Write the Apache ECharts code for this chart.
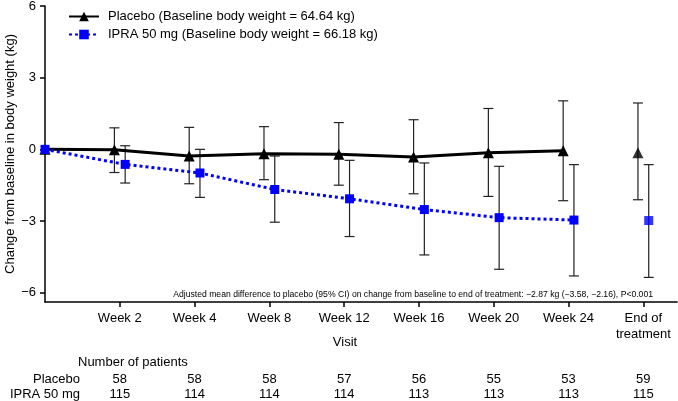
<!DOCTYPE html>
<html>
<head>
<meta charset="utf-8">
<script src="https://cdn.jsdelivr.net/npm/echarts@6/dist/echarts.min.js"></script>
<style>html,body{margin:0;padding:0;background:#fff}#chart{width:678px;height:401px}</style>
</head>
<body>
<div id="chart"></div>
<script>
// visits (index 0 = baseline)
var visits = ['Baseline', 'Week 2', 'Week 4', 'Week 8', 'Week 12', 'Week 16', 'Week 20', 'Week 24', 'End of\ntreatment'];
var yTicks = [-6, -3, 0, 3, 6];

var placeboMean = [0, -0.02, -0.28, -0.18, -0.21, -0.32, -0.14, -0.06, -0.14];
var placeboLow  = [null, -0.97, -1.44, -1.27, -1.50, -1.86, -1.97, -2.15, -2.11];
var placeboHigh = [null, 0.90, 0.92, 0.95, 1.12, 1.24, 1.71, 2.03, 1.94];

var ipraMean = [0, -0.63, -0.99, -1.68, -2.07, -2.52, -2.86, -2.96, -2.98];
var ipraLow  = [null, -1.41, -2.01, -3.05, -3.65, -4.42, -5.02, -5.30, -5.36];
var ipraHigh = [null, 0.15, 0.00, -0.28, -0.46, -0.57, -0.71, -0.64, -0.64];

var placeboN = [null, 58, 58, 58, 57, 56, 55, 53, 59];
var ipraN    = [null, 115, 114, 114, 114, 113, 113, 113, 115];

var placeboName = 'Placebo (Baseline body weight = 64.64 kg)';
var ipraName = 'IPRA 50 mg (Baseline body weight = 66.18 kg)';
var note = 'Adjusted mean difference to placebo (95% CI) on change from baseline to end of treatment: \u22122.87 kg (\u22123.58, \u22122.16), P<0.001';

var FONT = 'Liberation Sans, Arial, sans-serif';
var BLUE = '#0000ff';
var shift = 0.072; // horizontal dodge of the two groups

function pos(i, d) { return i === 0 ? 0 : i + d; }
var last = visits.length - 1;

var plLine = [], plEnd = [], plErr = [];
placeboMean.forEach(function (v, i) {
  if (i < last) plLine.push([pos(i, -shift), v]); else plEnd.push([pos(i, -shift), v]);
  if (placeboLow[i] != null) plErr.push([pos(i, -shift), placeboLow[i], placeboHigh[i]]);
});
var ipLine = [], ipEnd = [], ipErr = [];
ipraMean.forEach(function (v, i) {
  if (i < last) ipLine.push([pos(i, shift), v]); else ipEnd.push([pos(i, shift), v]);
  if (ipraLow[i] != null) ipErr.push([pos(i, shift), ipraLow[i], ipraHigh[i]]);
});

function errorBar(params, api) {
  var x = api.value(0);
  var top = api.coord([x, api.value(2)]);
  var bot = api.coord([x, api.value(1)]);
  var w = 5, st = {stroke: '#222', lineWidth: 1.2};
  return {type: 'group', children: [
    {type: 'line', shape: {x1: top[0], y1: top[1], x2: bot[0], y2: bot[1]}, style: st},
    {type: 'line', shape: {x1: top[0] - w, y1: top[1], x2: top[0] + w, y2: top[1]}, style: st},
    {type: 'line', shape: {x1: bot[0] - w, y1: bot[1], x2: bot[0] + w, y2: bot[1]}, style: st}
  ]};
}

var ticks = visits.map(function (v, i) { return i; }).slice(1);
var minus = function (v) { return String(v).replace('-', '\u2212'); };

function countAxis(arr, offset) {
  return {
    type: 'value', min: 0, max: 8.45, position: 'bottom', offset: offset,
    axisLine: {show: false, onZero: false}, axisTick: {show: false}, splitLine: {show: false},
    axisLabel: {
      customValues: ticks, margin: 0, color: '#000', fontSize: 13, fontFamily: FONT,
      formatter: function (v) { return arr[Math.round(v)] == null ? '' : String(arr[Math.round(v)]); }
    }
  };
}

var chart = echarts.init(document.getElementById('chart'));
chart.setOption({
  animation: false,
  textStyle: {fontFamily: FONT},
  grid: {left: 45, right: 1, top: 6, bottom: 99, containLabel: false, outerBoundsMode: 'none'},
  legend: {
    data: [placeboName, ipraName], orient: 'vertical', left: 68, top: 10, padding: 0,
    itemWidth: 30, itemHeight: 12, itemGap: 5,
    textStyle: {color: '#000', fontSize: 13, fontFamily: FONT, padding: [0, 0, 0, 4]}
  },
  xAxis: [{
    type: 'value', min: 0, max: 8.45,
    name: 'Visit', nameLocation: 'middle', nameGap: 34, nameMoveOverlap: false,
    nameTextStyle: {color: '#000', fontSize: 13, padding: [0, 32, 0, 0]},
    axisLine: {onZero: false, lineStyle: {color: '#000', width: 1.5}},
    axisTick: {customValues: ticks, length: 5, lineStyle: {color: '#000', width: 1.5}},
    axisLabel: {
      customValues: ticks, margin: 8, color: '#000', fontSize: 13, lineHeight: 16,
      formatter: function (v) { return visits[Math.round(v)]; }
    },
    splitLine: {show: false}
  }, countAxis(placeboN, 71), countAxis(ipraN, 86)],
  yAxis: {
    type: 'value', min: -6.39, max: 6,
    name: 'Change from baseline in body weight (kg)', nameLocation: 'middle', nameGap: 28, nameMoveOverlap: false,
    nameTextStyle: {color: '#000', fontSize: 13},
    axisLine: {onZero: false, lineStyle: {color: '#000', width: 1.5}},
    axisTick: {customValues: yTicks, length: 5, lineStyle: {color: '#000', width: 1.5}},
    axisLabel: {customValues: yTicks, margin: 9, color: '#000', fontSize: 13, formatter: minus},
    splitLine: {show: false}
  },
  graphic: [
    {type: 'text', x: 78, y: 362, style: {text: 'Number of patients', fontSize: 13, fontFamily: FONT, fill: '#000', verticalAlign: 'middle'}},
    {type: 'text', x: 80, y: 379, style: {text: 'Placebo', fontSize: 13, fontFamily: FONT, fill: '#000', align: 'right', verticalAlign: 'middle'}},
    {type: 'text', x: 80, y: 394, style: {text: 'IPRA 50 mg', fontSize: 13, fontFamily: FONT, fill: '#000', align: 'right', verticalAlign: 'middle'}},
    {type: 'text', x: 653, y: 295, style: {text: note, fontSize: 8.65, fontFamily: FONT, fill: '#000', align: 'right', verticalAlign: 'middle'}}
  ],
  series: [
    {type: 'custom', name: 'plErr', renderItem: errorBar, data: plErr, encode: {x: 0, y: [1, 2]}, z: 1},
    {type: 'custom', name: 'ipErr', renderItem: errorBar, data: ipErr, encode: {x: 0, y: [1, 2]}, z: 1},
    {type: 'line', name: placeboName, data: plLine, symbol: 'triangle', symbolSize: 11,
      itemStyle: {color: '#000'}, lineStyle: {color: '#000', width: 3}, z: 3},
    {type: 'scatter', name: 'plEnd', data: plEnd, symbol: 'triangle', symbolSize: 11, itemStyle: {color: '#000'}, z: 3},
    {type: 'line', name: ipraName, data: ipLine, symbol: 'rect', symbolSize: 9,
      itemStyle: {color: BLUE}, lineStyle: {color: BLUE, width: 3, type: [3, 3]}, z: 4},
    {type: 'scatter', name: 'ipEnd', data: ipEnd, symbol: 'rect', symbolSize: 9, itemStyle: {color: BLUE}, z: 4}
  ]
});
</script>
</body>
</html>
